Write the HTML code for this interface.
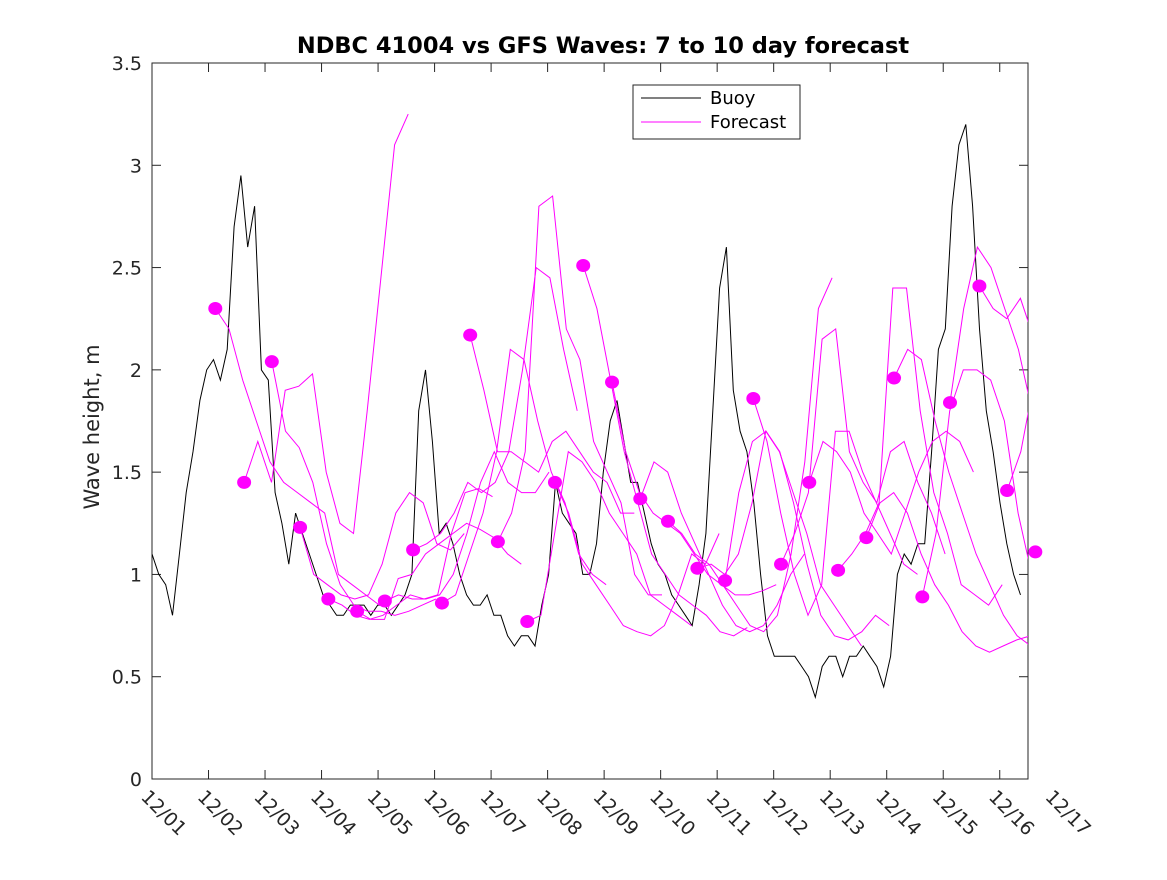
<!DOCTYPE html>
<html><head><meta charset="utf-8"><style>
body{margin:0;background:#fff}
svg{font-family:"DejaVu Sans","Liberation Sans",sans-serif}
</style></head><body>
<svg width="1167" height="875" viewBox="0 0 1167 875">
<rect width="1167" height="875" fill="#fff"/>
<defs><clipPath id="pc"><rect x="152" y="63" width="876" height="716"/></clipPath></defs>
<rect x="152" y="63" width="876" height="716" fill="#fff" stroke="#262626" stroke-width="1"/>
<g id="axes"></g>
<g id="buoy" clip-path="url(#pc)"></g>
<g id="fc" clip-path="url(#pc)"></g>
<g id="dots"></g>
<text x="603" y="53" text-anchor="middle" font-size="22.5" font-weight="bold" fill="#000">NDBC 41004 vs GFS Waves: 7 to 10 day forecast</text>
<text transform="translate(99,427) rotate(-90)" text-anchor="middle" font-size="21" fill="#262626">Wave height, m</text>
<g>
<rect x="633" y="85" width="167" height="54" fill="#fff" stroke="#262626" stroke-width="1"/>
<line x1="641" y1="98" x2="701" y2="98" stroke="#000" stroke-width="1"/>
<text x="710" y="104" font-size="18" fill="#000">Buoy</text>
<line x1="641" y1="122" x2="701" y2="122" stroke="#f0f" stroke-width="1"/>
<text x="710" y="128" font-size="18" fill="#000">Forecast</text>
</g>
</svg>
<script>
const xTickLabels=["12/01","12/02","12/03","12/04","12/05","12/06","12/07","12/08","12/09","12/10","12/11","12/12","12/13","12/14","12/15","12/16","12/17"];
const yTicks=[0,0.5,1,1.5,2,2.5,3,3.5];
const buoyStepDays=0.121;
const buoyValues=[1.1,1.0,0.95,0.8,1.1,1.4,1.6,1.85,2.0,2.05,1.95,2.1,2.7,2.95,2.6,2.8,2.0,1.95,1.4,1.25,1.05,1.3,1.2,1.1,1.0,0.9,0.85,0.8,0.8,0.85,0.85,0.85,0.8,0.85,0.85,0.8,0.85,0.9,1.0,1.8,2.0,1.65,1.2,1.25,1.15,1.0,0.9,0.85,0.85,0.9,0.8,0.8,0.7,0.65,0.7,0.7,0.65,0.85,1.0,1.45,1.3,1.25,1.2,1.0,1.0,1.15,1.5,1.75,1.85,1.65,1.45,1.45,1.3,1.15,1.05,1.0,0.9,0.85,0.8,0.75,0.95,1.2,1.8,2.4,2.6,1.9,1.7,1.6,1.35,1.0,0.7,0.6,0.6,0.6,0.6,0.55,0.5,0.4,0.55,0.6,0.6,0.5,0.6,0.6,0.65,0.6,0.55,0.45,0.6,1.0,1.1,1.05,1.15,1.15,1.6,2.1,2.2,2.8,3.1,3.2,2.8,2.2,1.8,1.6,1.35,1.15,1.0,0.9];
const fcStartDays=[1.12,1.63,2.12,2.62,3.12,3.63,4.12,4.62,5.13,5.63,6.12,6.64,7.13,7.63,8.14,8.64,9.13,9.65,10.14,10.64,11.13,11.63,12.14,12.64,13.13,13.63,14.12,14.64,15.13,15.63];
const fcStepDays=0.242;
const fcValues=[
[2.30,2.2,1.95,1.75,1.55,1.45,1.40,1.35,1.30,1.0,0.95,0.9,0.85],
[1.45,1.65,1.45,1.9,1.92,1.98,1.5,1.25,1.2,1.8,2.45,3.1,3.25],
[2.04,1.7,1.62,1.45,1.15,0.95,0.85,0.82,0.82,0.8,0.82,0.85,0.88],
[1.23,1.0,0.95,0.9,0.88,0.9,1.05,1.3,1.4,1.35,1.15,1.12,1.2],
[0.88,0.85,0.8,0.78,0.8,0.85,0.9,0.88,0.9,1.2,1.4,1.42,1.38],
[0.82,0.78,0.78,0.98,1.0,1.1,1.15,1.2,1.25,1.22,1.18,1.1,1.05],
[0.87,0.9,0.88,0.88,0.9,1.0,1.2,1.45,1.6,1.45,1.4,1.4,1.5],
[1.12,1.15,1.2,1.3,1.45,1.4,1.45,1.6,2.0,2.5,2.45,2.1,1.8],
[0.86,0.9,1.1,1.3,1.6,2.1,2.05,1.75,1.5,1.35,1.1,1.0,0.95],
[2.17,1.9,1.6,1.6,1.55,1.5,1.65,1.7,1.6,1.5,1.45,1.3,1.3],
[1.16,1.3,1.6,2.8,2.85,2.2,2.05,1.65,1.5,1.35,1.0,0.9,0.9],
[0.77,0.8,1.2,1.6,1.55,1.45,1.3,1.2,1.1,0.9,0.85,0.8,0.75],
[1.45,1.3,1.05,0.95,0.85,0.75,0.72,0.7,0.75,0.9,1.1,1.05,1.2],
[2.51,2.3,1.95,1.6,1.35,1.1,1.0,0.9,0.85,0.8,0.72,0.7,0.74],
[1.94,1.6,1.4,1.3,1.25,1.2,1.1,1.0,0.95,0.9,0.9,0.92,0.95],
[1.37,1.55,1.5,1.3,1.15,1.0,0.85,0.75,0.72,0.75,0.85,1.0,1.1],
[1.26,1.2,1.1,1.05,0.95,0.85,0.75,0.72,0.8,1.1,1.55,2.3,2.45],
[1.03,1.05,1.0,1.1,1.35,1.7,1.6,1.4,1.2,0.95,0.85,0.75,0.65],
[0.97,1.4,1.65,1.7,1.6,1.35,1.05,0.8,0.7,0.68,0.72,0.8,0.75],
[1.86,1.65,1.3,1.0,0.8,0.95,1.7,1.7,1.5,1.35,1.2,1.05,1.0],
[1.05,1.2,1.4,2.15,2.2,1.6,1.45,1.35,1.6,1.65,1.45,1.3,1.1],
[1.45,1.65,1.6,1.5,1.3,1.2,1.1,1.3,1.5,1.65,1.7,1.65,1.5],
[1.02,1.1,1.2,1.35,2.4,2.4,1.8,1.4,1.2,0.95,0.9,0.85,0.95],
[1.18,1.35,1.4,1.3,1.1,0.95,0.85,0.72,0.65,0.62,0.65,0.68,0.7],
[1.96,2.1,2.05,1.75,1.5,1.3,1.1,0.95,0.8,0.7,0.65,0.62,0.62],
[0.89,1.2,1.8,2.0,2.0,1.95,1.75,1.3,1.0,0.95,1.0,1.4,1.85],
[1.84,2.3,2.6,2.5,2.3,2.1,1.8,1.55,1.3,1.3,1.45,1.6,1.75],
[2.41,2.3,2.25,2.35,2.15,1.85,1.75,1.6,1.45,1.5,1.55],
[1.41,1.6,1.95,2.1,1.95,1.8,1.6,1.5,1.45],
[1.11]
];
const NS="http://www.w3.org/2000/svg";
const X0=152,X1=1028,Y0=779,Y1=63,DAYS=15.5;
function xs(d){return X0+(X1-X0)*d/DAYS;}
function ys(v){return Y0-(Y0-Y1)*v/3.5;}
function mk(tag,parent,attrs){const e=document.createElementNS(NS,tag);for(const k in attrs)e.setAttribute(k,attrs[k]);parent.appendChild(e);return e;}
const axes=document.getElementById('axes');
xTickLabels.forEach((t,i)=>{
  const x=xs(i);
  if(x<=X1+0.5){
    const a=mk('line',axes,{x1:x,y1:Y0,x2:x,y2:Y0-9,stroke:'#262626'});
    
    
    const b=mk('line',axes,{x1:x,y1:Y1,x2:x,y2:Y1+9,stroke:'#262626'});
    
    
  }
  const tx=mk('text',axes,{x:0,y:0,'font-size':'19',fill:'#262626',transform:`translate(${x-12},${Y0+19}) rotate(45)`});
  tx.textContent=t;
  
  
});
yTicks.forEach(v=>{
  const y=ys(v);
  const a=mk('line',axes,{x1:X0,y1:y,x2:X0+9,y2:y,stroke:'#262626'});
  
  
  const b=mk('line',axes,{x1:X1,y1:y,x2:X1-9,y2:y,stroke:'#262626'});
  
  
  const tx=mk('text',axes,{x:X0-10,y:y+7,'text-anchor':'end','font-size':'19',fill:'#262626'});
  tx.textContent=String(v);
  
  
});
const bp=buoyValues.map((v,i)=>xs(i*buoyStepDays).toFixed(1)+','+ys(v).toFixed(1)).join(' ');
const bl=mk('polyline',document.getElementById('buoy'),{points:bp,fill:'none',stroke:'#000','stroke-width':'1'});


const fc=document.getElementById('fc'),dots=document.getElementById('dots');
fcStartDays.forEach((d0,k)=>{
  const vals=fcValues[k];
  if(vals.length>1){
    const p=vals.map((v,i)=>xs(d0+i*fcStepDays).toFixed(1)+','+ys(v).toFixed(1)).join(' ');
    const l=mk('polyline',fc,{points:p,fill:'none',stroke:'#f0f','stroke-width':'1'});
    
    
  }
  const c=mk('ellipse',dots,{cx:xs(d0),cy:ys(vals[0]),rx:7,ry:6.5,fill:'#f0f'});
  
  
});
</script>
</body></html>
